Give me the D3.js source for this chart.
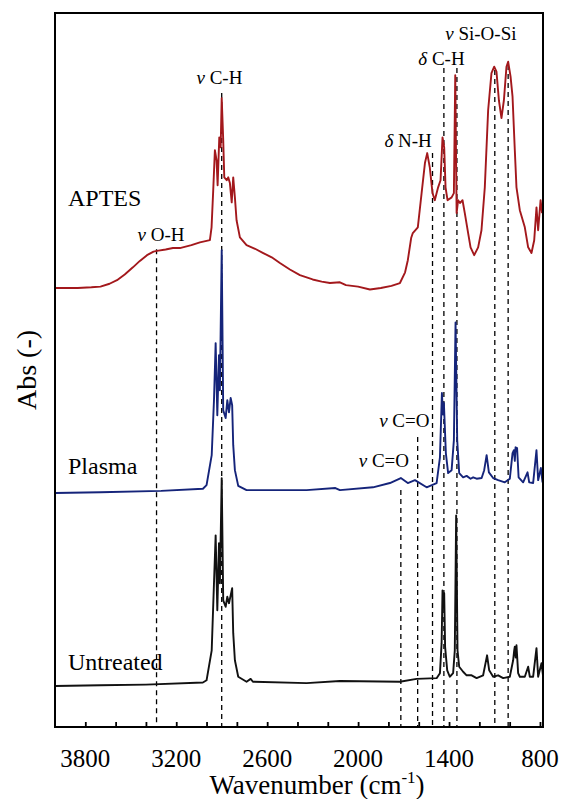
<!DOCTYPE html>
<html lang="en">
<head>
  <meta charset="UTF-8">
  <title>FTIR spectra</title>
  <script src="https://d3js.org/d3.v7.min.js"></script>
  <style>
    body { margin: 0; background: white; }
    svg { display: block; }
    text { fill: black; }
  </style>
</head>
<body>
  <svg id="chart"></svg>
  <script>
    // spectra: [wavenumber, absorbance above own baseline]
    const untreated = [
      [4000,0],[3700,0.01],[3400,0.02],[3024,0.05],[3000,0.08],[2966,0.5],[2951,1.44],[2940,2.11],
      [2929,1.06],[2918,2.0],[2912,1.44],[2900,2.91],[2890,1.2],[2874,1.11],[2863,1.25],[2852,1.16],
      [2841,1.27],[2831,1.37],[2824,0.74],[2813,0.36],[2791,0.13],[2736,0.06],[2709,0.1],[2694,0.06],
      [2340,0.04],[2120,0.07],[1724,0.06],[1614,0.1],[1482,0.11],[1460,0.18],[1449,0.6],[1443,1.34],
      [1438,1.1],[1432,1.3],[1426,0.55],[1412,0.22],[1395,0.13],[1373,0.18],[1362,0.5],[1353,2.39],
      [1344,0.5],[1333,0.27],[1307,0.2],[1284,0.15],[1251,0.15],[1218,0.11],[1175,0.15],[1149,0.43],
      [1135,0.22],[1109,0.13],[1076,0.15],[1043,0.11],[999,0.13],[977,0.36],[970,0.5],[966,0.55],
      [960,0.4],[955,0.57],[944,0.18],[933,0.13],[900,0.13],[878,0.27],[867,0.13],[845,0.13],
      [823,0.53],[812,0.13],[790,0.32],[779,0.13]
    ];
    const plasma = [
      [4000,0],[3700,0.01],[3300,0.03],[3024,0.06],[3000,0.11],[2966,0.53],[2951,1.3],[2940,2.1],
      [2929,1.09],[2918,1.93],[2912,1.44],[2900,3.4],[2890,1.16],[2874,1.05],[2863,1.3],[2852,1.13],
      [2841,1.33],[2831,1.23],[2824,0.67],[2813,0.32],[2791,0.1],[2736,0.04],[2340,0.04],[2150,0.07],
      [2120,0.04],[1902,0.08],[1790,0.14],[1718,0.21],[1672,0.14],[1625,0.18],[1548,0.08],[1482,0.14],
      [1460,0.5],[1447,1.4],[1440,1.1],[1434,1.26],[1421,0.56],[1406,0.28],[1383,0.32],[1368,0.74],
      [1357,2.39],[1346,0.74],[1333,0.28],[1307,0.22],[1284,0.24],[1258,0.2],[1241,0.22],[1218,0.2],
      [1185,0.21],[1168,0.32],[1152,0.53],[1137,0.29],[1109,0.21],[1076,0.18],[1032,0.15],[999,0.2],
      [981,0.56],[972,0.6],[966,0.45],[961,0.64],[951,0.63],[941,0.22],[911,0.15],[882,0.29],
      [871,0.15],[845,0.14],[823,0.6],[812,0.18],[794,0.35],[783,0.15]
    ];
    const aptes = [
      [3995,0],[3850,0],[3760,0.01],[3700,0.02],[3640,0.06],[3591,0.11],[3540,0.19],[3486,0.29],
      [3440,0.38],[3393,0.46],[3350,0.51],[3327,0.52],[3270,0.54],[3222,0.56],[3176,0.56],[3100,0.6],
      [3044,0.64],[2978,0.67],[2967,0.85],[2956,1.37],[2945,1.93],[2934,1.79],[2927,1.44],[2916,2.11],
      [2907,1.97],[2900,2.66],[2890,2.07],[2883,1.55],[2867,1.51],[2857,1.55],[2846,1.47],[2834,1.2],
      [2824,1.55],[2813,1.27],[2802,0.95],[2780,0.71],[2736,0.6],[2680,0.55],[2626,0.49],[2570,0.43],
      [2516,0.35],[2450,0.26],[2384,0.18],[2300,0.12],[2240,0.09],[2186,0.07],[2120,0.08],[2080,0.04],
      [2000,0.02],[1922,-0.02],[1850,0.0],[1780,0.03],[1724,0.07],[1690,0.22],[1672,0.39],[1650,0.7],
      [1639,0.77],[1606,0.85],[1581,1.33],[1559,1.75],[1544,1.89],[1527,1.69],[1509,1.33],[1494,1.23],
      [1472,1.41],[1456,1.51],[1443,2.11],[1432,1.97],[1423,1.41],[1410,1.23],[1383,1.27],[1368,1.33],
      [1359,2.98],[1350,1.05],[1340,1.23],[1328,1.19],[1311,1.23],[1296,1.05],[1274,0.77],[1258,0.57],
      [1234,0.46],[1208,0.57],[1186,0.81],[1164,1.41],[1142,2.49],[1120,3.01],[1102,3.1],[1087,3.03],
      [1071,2.63],[1054,2.38],[1038,2.63],[1021,3.1],[1010,3.17],[994,2.96],[981,2.68],[966,1.93],
      [955,1.41],[933,1.09],[900,0.85],[878,0.57],[856,0.49],[838,0.67],[823,1.13],[812,0.81],
      [796,1.23],[786,1.05]
    ];

    const seriesNames = ["Untreated", "Plasma", "APTES"];
    const seriesOffsets = [0.574, 3.277, 6.148];
    const seriesColors = ["#111111", "#15247a", "#a3181c"];
    const seriesData = [untreated, plasma, aptes];

    // band markers: wavenumber, top of dashed line (abs units)
    const bandWn = [3330, 2900, 1718, 1607, 1509, 1434, 1348, 1098, 1010];
    const bandTop = [6.69, 8.88, 3.32, 4.06, 8.04, 9.23, 9.23, 9.2, 9.27];

    const bandLabels = [
      { sym: "v", text: " O-H", wn: 3300, y: 6.8 },
      { sym: "v", text: " C-H", wn: 2915, y: 9.0 },
      { sym: "δ", text: " N-H", wn: 1670, y: 8.12 },
      { sym: "δ", text: " C-H", wn: 1450, y: 9.27 },
      { sym: "v", text: " Si-O-Si", wn: 1190, y: 9.62 },
      { sym: "v", text: " C=O", wn: 1695, y: 4.2 },
      { sym: "v", text: " C=O", wn: 1830, y: 3.64 }
    ];

    const xTicks = d3.range(800, 4000, 200);
    const xTickLabels = [3800, 3200, 2600, 2000, 1400, 800];

    const width = 565, height = 799;
    const margin = { top: 13, right: 22, bottom: 72, left: 55 };

    const svg = d3.select("#chart").attr("width", width).attr("height", height)
      .attr("font-family", "'Liberation Serif', Tinos, 'DejaVu Serif', serif");

    const x = d3.scaleLinear().domain([4000, 780]).range([margin.left, width - margin.right]);
    const y = d3.scaleLinear().domain([0, 10]).range([height - margin.bottom, margin.top]);

    // dashed band lines
    svg.append("g").selectAll("line").data(bandWn).join("line")
      .attr("x1", d => x(d)).attr("x2", d => x(d))
      .attr("y1", (d, i) => y(bandTop[i]))
      .attr("y2", y(0))
      .attr("stroke", "#000")
      .attr("stroke-width", 1.3)
      .attr("stroke-dasharray", "5,4");

    // spectra
    const line = d3.line()
      .x(d => x(d[0]))
      .y(d => y(d[1]));

    seriesData.forEach((s, i) => {
      svg.append("path")
        .datum(s.map(p => [p[0], p[1] + seriesOffsets[i]]))
        .attr("fill", "none")
        .attr("stroke", seriesColors[i])
        .attr("stroke-width", 1.9)
        .attr("stroke-linejoin", "round")
        .attr("d", line);
    });

    // series names
    const nameY = [0.8, 3.54, 7.3];
    svg.append("g").selectAll("text").data(seriesNames).join("text")
      .attr("x", 68)
      .attr("y", (d, i) => y(nameY[i]))
      .attr("font-size", 24)
      .text(d => d);

    // band labels
    const bl = svg.append("g").selectAll("text").data(bandLabels).join("text")
      .attr("x", d => x(d.wn))
      .attr("y", d => y(d.y))
      .attr("text-anchor", "middle")
      .attr("font-size", 19);
    bl.append("tspan").attr("font-style", "italic").text(d => d.sym);
    bl.append("tspan").text(d => d.text);

    // frame
    svg.append("rect")
      .attr("x", margin.left).attr("y", margin.top)
      .attr("width", width - margin.left - margin.right)
      .attr("height", height - margin.top - margin.bottom)
      .attr("fill", "none")
      .attr("stroke", "#000")
      .attr("stroke-width", 2);

    // x ticks (inward)
    const xAxis = d3.axisBottom(x).tickValues(xTicks).tickSize(-5).tickFormat("");
    svg.append("g")
      .attr("transform", `translate(0,${y(0)})`)
      .call(xAxis)
      .call(g => g.select(".domain").remove())
      .call(g => g.selectAll("line").attr("stroke-width", 1.8));

    svg.append("g").selectAll("text").data(xTickLabels).join("text")
      .attr("x", d => x(d))
      .attr("y", 767)
      .attr("text-anchor", "middle")
      .attr("font-size", 25)
      .text(d => d);

    // axis titles
    const xt = svg.append("text")
      .attr("x", (margin.left + width - margin.right) / 2 + 18)
      .attr("y", 794)
      .attr("text-anchor", "middle")
      .attr("font-size", 27)
      .text("Wavenumber (cm");
    xt.append("tspan").attr("font-size", 17).attr("dy", -11).text("-1");
    xt.append("tspan").attr("dy", 11).text(")");

    svg.append("text")
      .attr("transform", `translate(36,${(margin.top + height - margin.bottom) / 2}) rotate(-90)`)
      .attr("text-anchor", "middle")
      .attr("font-size", 28)
      .text("Abs (-)");
  </script>
</body>
</html>
